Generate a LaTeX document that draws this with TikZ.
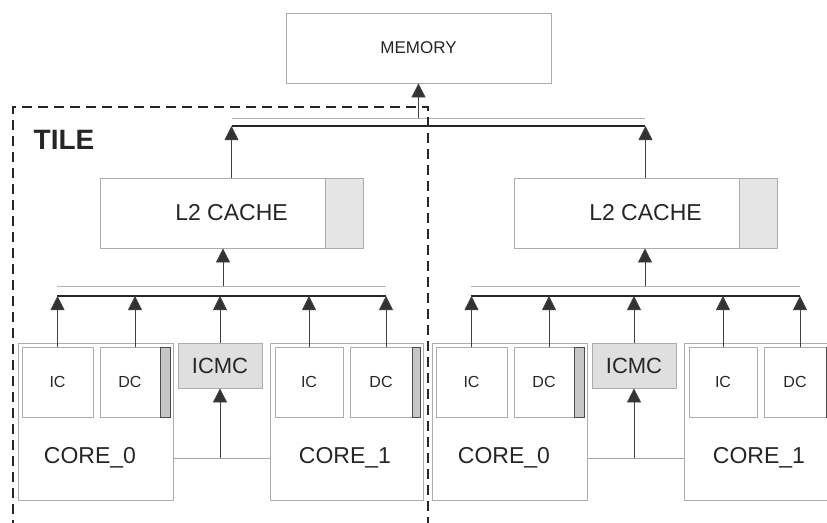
\documentclass[tikz,border=0pt]{standalone}
\usepackage{fontspec}
\setmainfont{Liberation Sans}
\usetikzlibrary{arrows.meta}

\newcommand\memfont{\fontsize{17}{20}\selectfont}
\newcommand\cachefont{\fontsize{23}{26}\selectfont}
\newcommand\corefont{\fontsize{23}{26}\selectfont}
\newcommand\unitfont{\fontsize{16}{18}\selectfont}
\newcommand\icmcfont{\fontsize{22}{24}\selectfont}
\newcommand\tilefont{\fontsize{28}{30}\selectfont\bfseries}

\begin{document}
\begin{tikzpicture}[
    x=1pt, y=-1pt,
    box/.style={
        draw=gray!65,
        line width=0.8pt,
        fill=white,
        inner sep=0pt,
        text=black!85
    },
    strip/.style={
        draw=black!70,
        line width=0.8pt,
        fill=gray!45,
        inner sep=0pt
    },
    thinbus/.style={draw=gray!60, line width=0.8pt},
    mainbus/.style={draw=black!85, line width=1.4pt},
    link/.style={draw=gray!70, line width=0.9pt},
    arrow/.style={
        -{Triangle[width=14pt, length=14pt, fill=black!80]},
        draw=black!75,
        line width=0.8pt
    },
    tile/.style={
        draw=black!85,
        line width=2.6pt,
        dash pattern=on 10pt off 6pt
    }
]
\useasboundingbox (0,0) rectangle (827,522);
\clip (0,0) rectangle (827,522);

% Memory and top bus
\node (mem) [box, minimum width=265pt, minimum height=70pt, font=\memfont] at (418.5,48) {MEMORY};
\coordinate (topL) at (232,126);
\coordinate (topR) at (645,126);
\coordinate (memtap) at (mem.south |- 0,118);
\draw [thinbus] ([yshift=8pt]topL) -- ([yshift=8pt]topR);
\draw [mainbus] (topL) -- (topR);
\draw [arrow] (memtap) -- (mem.south);

% Two tiles
\foreach \t/\dx/\ax in {a/0/223, b/414/645} {
    % L2 cache
    \node (l2\t) [box, minimum width=263pt, minimum height=70pt, font=\cachefont] at (231.5+\dx,213) {L2 CACHE};
    \node (tag\t) [box, fill=gray!20, minimum width=38pt, minimum height=70pt] at (344+\dx,213) {};

    % Core 0
    \node (core0\t) [box, minimum width=155pt, minimum height=157pt] at (95.5+\dx,421.5) {};
    \node (core0txt\t) [font=\corefont, text=black!85] at (90+\dx,458) {CORE\_0};
    \node (ic0\t) [box, minimum width=71pt, minimum height=70pt, font=\unitfont] at (57.5+\dx,382) {IC};
    \node (dc0\t) [box, minimum width=60pt, minimum height=70pt, font=\unitfont] at (130+\dx,382) {DC};
    \node (strip0\t) [strip, minimum width=10pt, minimum height=70pt] at (165+\dx,382) {};

    % ICMC
    \node (icmc\t) [box, fill=gray!25, minimum width=84pt, minimum height=45pt, font=\icmcfont] at (220+\dx,365.5) {ICMC};

    % Core 1
    \node (core1\t) [box, minimum width=153pt, minimum height=157pt] at (346.5+\dx,421.5) {};
    \node (core1txt\t) [font=\corefont, text=black!85] at (345+\dx,458) {CORE\_1};
    \node (ic1\t) [box, minimum width=68pt, minimum height=70pt, font=\unitfont] at (309+\dx,382) {IC};
    \node (dc1\t) [box, minimum width=62pt, minimum height=70pt, font=\unitfont] at (381+\dx,382) {DC};
    \node (strip1\t) [strip, minimum width=8pt, minimum height=70pt] at (416+\dx,382) {};

    % Tile bus
    \coordinate (busL\t) at (57+\dx,296);
    \coordinate (busR\t) at (386+\dx,296);
    \draw [thinbus] ([yshift=10pt]busL\t) -- ([yshift=10pt]busR\t);
    \draw [mainbus] (busL\t) -- (busR\t);

    % Up to the tile bus
    \coordinate (dctap0\t) at ([xshift=5pt]dc0\t.north);
    \coordinate (dctap1\t) at ([xshift=5pt]dc1\t.north);
    \draw [arrow] (ic0\t.north) -- (ic0\t.north |- busL\t);
    \draw [arrow] (dctap0\t) -- (dctap0\t |- busL\t);
    \draw [arrow] (icmc\t.north) -- (icmc\t.north |- busL\t);
    \draw [arrow] (ic1\t.north) -- (ic1\t.north |- busL\t);
    \draw [arrow] (dctap1\t) -- (dctap1\t |- busL\t);

    % Up to L2 and to the top bus
    \coordinate (l2tap\t) at (\ax,286);
    \draw [arrow] (l2tap\t) -- (l2tap\t |- l2\t.south);
    \draw [arrow] (l2\t.north) -- (l2\t.north |- topL);

    % Cores to ICMC
    \coordinate (linkmid\t) at (icmc\t.south |- core0txt\t);
    \draw [link] (core0\t.east |- core0txt\t) -- (core1\t.west |- core0txt\t);
    \draw [arrow] (linkmid\t) -- (icmc\t.south);
}

% Tile boundary
\coordinate (tileBL) at (13,530);
\coordinate (tileTL) at (13,107);
\coordinate (tileTR) at (428,107);
\coordinate (tileBR) at (428,530);
\draw [tile] (tileBL) -- (tileTL) -- (tileTR) -- (tileBR);
\node (tilelbl) [font=\tilefont, text=black!85] at (64,140) {TILE};

\end{tikzpicture}
\end{document}
